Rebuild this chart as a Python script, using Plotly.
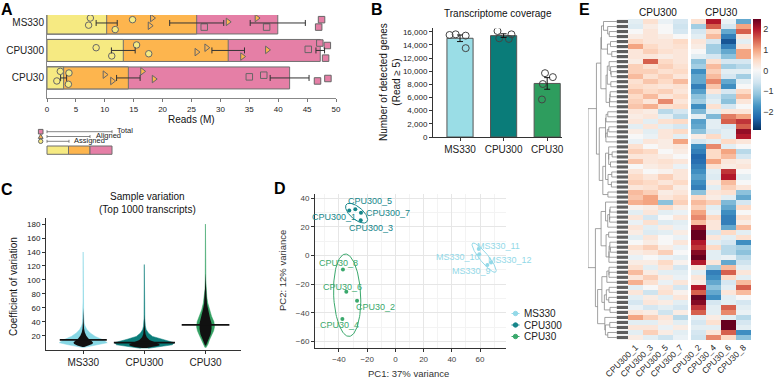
import numpy as np
import plotly.graph_objects as go

W, H = 774, 379
FONT = "Arial, Liberation Sans, sans-serif"


def fx(p):
    return p / W


def fy(p):
    return 1 - p / H


# ======================= DATA =======================
groups = ["MS330", "CPU300", "CPU30"]

# Panel A - reads per library (millions)
assigned_reads = [[7.5, 7.2, 11.8, 14.8], [8.5, 11.2, 15.5, 17.6], [2.3, 3.8, 1.7, 3.7]]
aligned_reads = [[18.2, 17.8, 31.3, 36.3], [25.9, 27.6, 38.1, 33.8], [10.0, 11.3, 16.5, 18.5]]
total_reads = [[27.2, 38.0, 47.5, 47.0], [47.2, 48.5, 45.2, 48.2], [35.0, 37.5, 46.8, 48.6]]
reads_ticks = list(range(0, 51, 5))

# Panel B - detected genes (read >= 5)
detected_genes = [[15500, 15600, 15400, 13500], [16100, 15000, 14900, 15600], [9700, 9100, 8050, 5700]]
genes_ticks = list(range(0, 16001, 2000))

# Panel C - coefficient of variation, density profiles (relative half-width)
ms330_cv = [3, 4, 7, 10, 14, 19, 24, 29, 34, 38, 50, 70, 100, 140]
ms330_dens = [0, 0.1, 0.5, 0.8, 0.67, 0.4, 0.23, 0.12, 0.057, 0.03, 0.012, 0.008, 0.006, 0.004]
ms330_swarm_cv = [4, 6, 8, 10, 13, 16, 20, 25, 30, 40, 60]
ms330_swarm = [0.03, 0.2, 0.3, 0.33, 0.27, 0.17, 0.1, 0.05, 0.027, 0.012, 0.006]
cpu300_cv = [2, 4, 7, 10, 12, 15, 19, 24, 29, 34, 45, 70, 100, 122]
cpu300_dens = [0.13, 0.5, 0.93, 1.0, 0.83, 0.57, 0.27, 0.13, 0.057, 0.03, 0.012, 0.008, 0.006, 0.004]
cpu300_swarm_cv = [2.5, 4, 6, 8, 11, 14, 18, 22, 28, 35, 50]
cpu300_swarm = [0.07, 0.33, 0.5, 0.5, 0.33, 0.17, 0.08, 0.04, 0.02, 0.01, 0.006]
cpu30_cv = [3, 8, 14, 20, 27, 33, 40, 48, 57, 67, 76, 86, 100, 130, 180]
cpu30_dens = [0.017, 0.083, 0.13, 0.2, 0.27, 0.3, 0.28, 0.2, 0.13, 0.073, 0.04, 0.02, 0.01, 0.006, 0.004]
cpu30_swarm_cv = [6, 10, 15, 22, 30, 38, 45, 55, 65, 80, 92, 110]
cpu30_swarm = [0.017, 0.05, 0.1, 0.17, 0.2, 0.2, 0.15, 0.1, 0.05, 0.027, 0.012, 0.005]
cv_median = [14.0, 10.0, 35.5]
cv_ticks = list(range(20, 181, 20))

# Panel D - PCA
pca_samples = ["MS330_9", "MS330_10", "MS330_11", "MS330_12",
               "CPU300_1", "CPU300_3", "CPU300_5", "CPU300_7",
               "CPU30_2", "CPU30_4", "CPU30_6", "CPU30_8"]
pca_group = ["MS330"] * 4 + ["CPU300"] * 4 + ["CPU30"] * 4
pc1 = [65.2, 59.5, 59.1, 67.8, -32.7, -24.6, -28.4, -24.4, -27.2, -37.6, -34.8, -37.2]
pc2 = [-6.6, 0.8, 4.5, -4.8, 31.4, 24.5, 32.1, 29.8, -31.5, -44.2, -25.2, -9.7]
pc_ticks = [-40, -20, 0, 20, 40, 60]

# Panel E - z-scored expression (rows ordered as in the heatmap)
heat_samples_left = ["CPU300_1", "CPU300_3", "CPU300_5", "CPU300_7"]
heat_samples_right = ["CPU30_2", "CPU30_4", "CPU30_6", "CPU30_8"]
cpu300_1 = [-0.3, -0.4, 0.0, 0.2, 0.5, 1.0, 0.3, 0.3, 0.2, 0.6, 0.6, 0.8, 0.4, 0.5, 0.7, 0.5, 0.6, 0.7, 0.3, 0.2, 0.3,
            -0.3, 0.2, 0.0, -0.2, 0.4, 0.6, 0.3, 0.7, 0.0, 0.3, 0.5, 0.6, 0.3, 0.8, 0.7, 0.9, 0.1, -0.3, 0.3, -0.2, 0.3, 0.2,
            -0.3, 0.0, 0.4, 0.2, -0.2, 0.2, 0.4, 0.8, 0.3, 0.9, -0.3, 0.3, -0.3, -0.5, -0.2, 0.3, 1.0, -0.3, 0.3, -0.3, 0.2]
cpu300_3 = [0.4, 0.2, 0.3, 0.3, 0.3, 0.5, 0.6, 0.3, 1.5, 0.4, 0.6, 0.4, 0.7, 0.4, 0.5, 0.8, 0.3, 0.9, 0.2, 0.3, -0.3,
            0.3, -0.3, -0.2, 0.3, 0.0, 0.5, 0.3, 0.3, 0.2, 0.0, 0.3, 0.5, 0.4, 0.6, 1.0, 1.0, 0.2, 0.3, -0.5, 0.4, -0.3, -0.4,
            0.3, 0.2, 0.6, 0.3, 0.0, 0.2, -0.3, 0.2, 0.6, 0.4, 0.0, -0.6, 0.2, 0.3, -0.5, 0.2, 0.6, -0.3, 0.3, 0.6, -0.3]
cpu300_5 = [-0.2, 0.0, 0.0, 0.2, 0.3, 0.3, 0.4, 0.2, 0.5, 0.6, 0.4, 0.6, 0.5, 0.3, 0.6, 0.3, 1.2, 0.4, -0.8, -0.3, 0.4,
            -0.3, 0.3, 0.3, 0.2, 0.2, 0.0, 0.2, 0.4, 0.3, 0.1, 0.6, 0.3, 0.6, 0.2, 0.3, -1.2, 0.5, -0.3, 0.0, -0.4, 0.2, -0.3,
            0.0, 0.0, 0.2, 0.6, -0.2, 0.5, 0.3, -0.3, 0.2, -0.2, 0.3, 0.4, -0.3, 0.2, -0.3, -0.6, 0.3, 0.2, -0.2, 0.2, -0.6]
cpu300_7 = [-0.5, -0.6, -0.5, 0.0, 0.5, 0.4, 0.3, 0.3, 0.3, 0.4, 0.5, 0.3, 0.8, 0.4, 0.3, 0.5, 0.3, 0.5, -0.5, -0.8, 0.5,
            -0.5, 0.5, -0.3, 1.0, 0.3, 0.2, 0.0, 0.3, -0.2, 0.3, 0.3, 0.5, 0.2, 0.3, 0.5, 0.6, 0.2, -0.2, 0.3, -0.3, -0.2, 0.2,
            -0.2, 0.3, -0.2, 0.0, -0.3, 0.1, -0.5, -0.3, -0.2, 0.3, -0.5, 0.1, 0.3, -0.3, -0.5, 0.2, -0.8, -0.3, 0.2, -0.3, -0.2]
cpu30_2 = [0.4, -1.0, -0.5, -0.3, 0.3, 0.2, 0.0, -0.3, -1.2, -1.0, -1.8, -1.5, -1.5, -2.0, -1.6, -1.2, -1.0, -1.8, -1.3, -0.3, -1.6,
           -1.5, -1.2, 0.2, -0.5, -1.8, -2.0, -2.3, -2.2, -2.0, -1.8, -1.6, -1.8, -2.0, -1.2, 0.5, 0.8, 0.6, 1.0, 1.2, 0.8, 2.2, 2.5,
           2.5, 2.0, 1.8, 2.3, 2.6, 2.0, 0.3, -0.3, 0.3, 0.2, 2.0, 1.5, 2.5, 2.3, 1.8, 1.5, -0.3, -0.5, -0.3, -0.5, -0.6]
cpu30_4 = [2.0, 1.5, 0.5, 0.8, -0.5, -1.0, -1.0, -0.5, 0.4, 0.8, 0.6, 0.8, 1.2, 0.7, 0.3, -0.5, -0.3, 0.4, -0.3, -1.3, -0.3,
           -0.3, -0.5, 0.5, -0.3, 1.2, 0.5, 0.5, 1.0, 0.4, -0.3, -0.4, 0.2, -0.3, 0.3, 0.2, 0.6, -0.3, -0.2, 0.5, 0.3, 0.3, -0.5,
           0.3, -0.3, 0.5, -0.3, -0.3, 0.3, -1.0, -2.0, -1.8, -1.5, -1.2, -1.5, -1.8, -0.5, -0.3, -0.3, 0.2, 0.4, -0.3, 0.3, 1.2]
cpu30_6 = [-0.2, -0.5, -1.5, -2.0, -2.5, -2.0, -1.5, -1.2, -0.5, -1.0, -0.3, -0.5, -1.5, -1.8, -0.5, -1.0, -1.2, -0.5, 0.3, 1.3, 1.5,
           -0.5, -0.3, -0.3, 0.5, -0.3, 1.0, 0.8, 0.3, 0.2, 1.8, 2.0, 0.8, 0.6, 0.4, -0.3, -1.3, -1.5, -1.8, -2.0, -2.0, -1.5, 0.5,
           -0.3, -0.5, -0.8, -0.8, -0.2, -1.5, 0.8, 1.5, 0.5, -0.5, -0.3, 0.3, -0.3, -0.3, 1.5, 1.2, -0.3, 2.5, 2.6, 1.5, 0.5]
cpu30_8 = [-1.5, 1.0, 1.5, 0.3, -0.3, 0.3, 1.0, 1.0, -0.5, -0.8, -0.3, -1.0, -0.3, 0.0, 0.5, 0.8, 0.3, 0.0, 0.3, 1.0, 1.8,
           1.5, 2.2, 2.0, 0.3, 0.0, -0.8, -0.5, 0.2, 0.3, 0.0, -0.3, 0.0, 0.3, -1.2, -1.5, -0.5, 0.5, 0.0, 0.4, 0.2, 0.8, -0.3,
           0.4, -1.8, -1.0, -1.2, -0.8, -0.6, -0.3, 0.3, -0.3, 0.8, 1.5, 0.8, 0.0, -0.5, -0.3, -0.2, -0.8, -0.5, -0.3, -1.8, -1.2]
z_ticks = [-2, -1, 0, 1, 2]

# ======================= STYLE =======================
col_total, col_aligned, col_assigned = "#E57FA6", "#FDB54E", "#F6EA82"
col_b = ["#9ADDE6", "#0A7C79", "#2E9D5E"]
col_c = ["#86D7E4", "#0B7D7A", "#33A062"]
col_d = {"MS330": "#93D9E8", "CPU300": "#16868A", "CPU30": "#3AA86C"}
assigned_jit = [[0.18, -0.08, -0.24, 0.12], [0.1, -0.2, 0.2, -0.12], [0.24, 0.18, -0.11, -0.23]]
aligned_jit = [[0.18, -0.1, 0.04, 0.18], [-0.06, 0.1, 0.02, -0.22], [0.12, -0.11, 0.24, -0.04]]
total_jit = [[-0.15, -0.15, 0.12, -0.15], [0.27, 0.18, 0.04, -0.28], [0.04, 0.1, -0.11, -0.02]]
b_jit = [[-0.24, -0.1, 0.13, 0.13], [-0.14, -0.1, 0.12, 0.18], [-0.05, 0.13, -0.1, -0.12]]
label_shift = {  # (dx, dy) pixels, dy positive = up
    "MS330_9": (-16, -6), "MS330_10": (-21, -3), "MS330_11": (20, 3), "MS330_12": (19, 2),
    "CPU300_1": (-15, -7), "CPU300_3": (10, -8), "CPU300_5": (15, 8), "CPU300_7": (27, 0),
    "CPU30_2": (18, -6), "CPU30_4": (-3, -6), "CPU30_6": (-4, 5), "CPU30_8": (-4, 6),
}
violin_scale = 0.49
median_half = [0.385, 0.5, 0.39]

fig = go.Figure()
ann = []
shapes = []


def text(x, y, s, size=10, color="#111", angle=0, xanchor="center", bold=False):
    ann.append(dict(x=fx(x), y=fy(y), xref="paper", yref="paper", text=f"<b>{s}</b>" if bold else s,
                    showarrow=False, xanchor=xanchor, yanchor="middle", textangle=angle,
                    font=dict(size=size, color=color, family=FONT)))


def pline(x0, y0, x1, y1, color="#666", width=0.8):
    shapes.append(dict(type="line", xref="paper", yref="paper", x0=fx(x0), y0=fy(y0), x1=fx(x1), y1=fy(y1),
                       line=dict(color=color, width=width)))


def prect(x0, y0, x1, y1, fill, line="#6f6f6f", kind="rect"):
    shapes.append(dict(type=kind, xref="paper", yref="paper", x0=fx(x0), y0=fy(y0), x1=fx(x1), y1=fy(y1),
                       fillcolor=fill, line=dict(color=line, width=1)))


def ptri(cx, cy, r, fill):
    pts = [(cx, cy - r), (cx + r, cy + r * 0.8), (cx - r, cy + r * 0.8)]
    path = "M " + " L ".join(f"{fx(a):.5f},{fy(b):.5f}" for a, b in pts) + " Z"
    shapes.append(dict(type="path", xref="paper", yref="paper", path=path, fillcolor=fill,
                       line=dict(color="#666", width=1)))


# ======================= PANEL A =======================
ypos = [2, 1, 0]
a_series = [("Total", total_reads, total_jit, col_total, "square"),
            ("Aligned", aligned_reads, aligned_jit, col_aligned, "triangle-right"),
            ("Assigned", assigned_reads, assigned_jit, col_assigned, "circle")]
for name, pts, jit, col, sym in a_series:
    means = [float(np.mean(p)) for p in pts]
    fig.add_trace(go.Bar(x=means, y=ypos, orientation="h", width=0.8,
                         marker=dict(color=col, line=dict(color="#6f6f6f", width=1)),
                         xaxis="x", yaxis="y", showlegend=False, hoverinfo="skip"))
for name, pts, jit, col, sym in a_series:
    xs, ys = [], []
    for gi, p in enumerate(pts):
        for v, j in zip(p, jit[gi]):
            xs.append(v)
            ys.append(ypos[gi] + j)
    fig.add_trace(go.Scatter(x=xs, y=ys, mode="markers",
                             marker=dict(symbol=sym, size=6.5, color=col, line=dict(color="#666", width=1)),
                             xaxis="x", yaxis="y", showlegend=False, hoverinfo="skip"))
for name, pts, jit, col, sym in a_series:
    means = [float(np.mean(p)) for p in pts]
    sems = [float(np.std(p, ddof=1) / np.sqrt(len(p))) for p in pts]
    fig.add_trace(go.Scatter(x=means, y=ypos, mode="markers", marker=dict(size=1, color="rgba(0,0,0,0)"),
                             error_x=dict(type="data", array=sems, color="#333", thickness=1, width=3),
                             xaxis="x", yaxis="y", showlegend=False, hoverinfo="skip"))

# legend of panel A (layout shapes in pixel space)
leg = [("Total", col_total, 131.7, 112, 115.5),
       ("Aligned", col_aligned, 136.5, 90, 94),
       ("Assigned", col_assigned, 141.3, 69, 72)]
for name, col, yy, xend, xt in leg:
    pline(47, yy, xend, yy)
    pline(47, yy - 1.5, 47, yy + 1.5)
    pline(xend, yy - 1.5, xend, yy + 1.5)
    text(xt, yy - 0.8, name, size=7.5, xanchor="left", color="#222")
prect(38.4, 129.4, 43, 134, col_total, "#666")
ptri(40.7, 136.5, 2.4, col_aligned)
prect(38.5, 139.1, 42.9, 143.5, col_assigned, "#666", kind="circle")
for x0, x1, col in [(47, 68.5, col_assigned), (68.5, 90, col_aligned), (90, 112, col_total)]:
    prect(x0, 146, x1, 154.3, col)

# ======================= PANEL B =======================
b_means = [float(np.mean(g)) for g in detected_genes]
b_sems = [float(np.std(g, ddof=1) / np.sqrt(len(g))) for g in detected_genes]
fig.add_trace(go.Bar(x=[0, 1, 2], y=b_means, width=0.6,
                     marker=dict(color=col_b, line=dict(color="#555", width=1)),
                     xaxis="x2", yaxis="y2", showlegend=False, hoverinfo="skip"))
bx, by = [], []
for gi, g in enumerate(detected_genes):
    for v, j in zip(g, b_jit[gi]):
        bx.append(gi + j)
        by.append(v)
fig.add_trace(go.Scatter(x=bx, y=by, mode="markers",
                         marker=dict(symbol="circle-open", size=7, color="#444", line=dict(width=1)),
                         xaxis="x2", yaxis="y2", showlegend=False, hoverinfo="skip"))
fig.add_trace(go.Scatter(x=[0, 1, 2], y=b_means, mode="markers", marker=dict(size=1, color="rgba(0,0,0,0)"),
                         error_y=dict(type="data", array=b_sems, color="#111", thickness=1, width=3),
                         xaxis="x2", yaxis="y2", showlegend=False, hoverinfo="skip"))

# ======================= PANEL C =======================
v_cv = [ms330_cv, cpu300_cv, cpu30_cv]
v_de = [ms330_dens, cpu300_dens, cpu30_dens]
s_cv = [ms330_swarm_cv, cpu300_swarm_cv, cpu30_swarm_cv]
s_de = [ms330_swarm, cpu300_swarm, cpu30_swarm]
for gi in range(3):
    for cvs, dens, col, lw in [(v_cv[gi], v_de[gi], col_c[gi], 0.5), (s_cv[gi], s_de[gi], "#111", 0)]:
        cvs = np.array(cvs, float)
        d = np.array(dens, float) * violin_scale
        xs = np.concatenate([gi + d, (gi - d)[::-1]])
        ys = np.concatenate([cvs, cvs[::-1]])
        fig.add_trace(go.Scatter(x=xs, y=ys, mode="lines", fill="toself", fillcolor=col,
                                 line=dict(color=col, width=lw), xaxis="x3", yaxis="y3",
                                 showlegend=False, hoverinfo="skip"))
    fig.add_trace(go.Scatter(x=[gi - median_half[gi], gi + median_half[gi]], y=[cv_median[gi]] * 2, mode="lines",
                             line=dict(color="#111", width=1.8), xaxis="x3", yaxis="y3",
                             showlegend=False, hoverinfo="skip"))

# ======================= PANEL D =======================
pc1a, pc2a = np.array(pc1), np.array(pc2)
t = np.linspace(0, 2 * np.pi, 120)
for g in groups:
    idx = [i for i, gg in enumerate(pca_group) if gg == g]
    pts = np.vstack([pc1a[idx], pc2a[idx]])
    mu = pts.mean(axis=1)
    cov = np.cov(pts)
    vals, vecs = np.linalg.eigh(cov)
    circ = np.vstack([np.cos(t), np.sin(t)]) * 2.0
    ell = vecs @ (np.sqrt(vals)[:, None] * circ) + mu[:, None]
    fig.add_trace(go.Scatter(x=ell[0], y=ell[1], mode="lines", line=dict(color=col_d[g], width=1),
                             xaxis="x4", yaxis="y4", showlegend=False, hoverinfo="skip"))
    fig.add_trace(go.Scatter(x=pc1a[idx], y=pc2a[idx], mode="markers", marker=dict(size=4, color=col_d[g]),
                             xaxis="x4", yaxis="y4", showlegend=False, hoverinfo="skip"))
for s, g, a, b in zip(pca_samples, pca_group, pc1, pc2):
    dx, dy = label_shift[s]
    ann.append(dict(x=a, y=b, xref="x4", yref="y4", text=s, showarrow=False, xshift=dx, yshift=dy,
                    font=dict(size=9, color=col_d[g], family=FONT)))
# legend of panel D
for k, g in enumerate(groups):
    yy = 313.5 + k * 11.5
    pline(511.5, yy, 519.5, yy, color=col_d[g], width=1)
    prect(513.3, yy - 2.2, 517.7, yy + 2.2, col_d[g], col_d[g], kind="circle")
    text(521.5, yy, g, size=10, color="#222", xanchor="left")

# ======================= PANEL E =======================
cols_l = [cpu300_1, cpu300_3, cpu300_5, cpu300_7]
cols_r = [cpu30_2, cpu30_4, cpu30_6, cpu30_8]
nrow = min(len(c) for c in cols_l + cols_r)
M = np.array([c[:nrow] for c in cols_l + cols_r], float).T
zmin, zmax = -2.9, 2.5
zf = -zmin / (zmax - zmin)
blues = ["#053061", "#2166AC", "#4393C3", "#92C5DE", "#D1E5F0", "#F7F7F7"]
reds = ["#F7F7F7", "#FDDBC7", "#F4A582", "#D6604D", "#B2182B", "#67001F"]
cscale = [[zf * i / 5, c] for i, c in enumerate(blues)] + [[zf + (1 - zf) * i / 5, c] for i, c in enumerate(reds[1:], 1)]
rows = list(range(nrow))
fig.add_trace(go.Heatmap(z=M[:, :4], x=heat_samples_left, y=rows, colorscale=cscale, zmin=zmin, zmax=zmax,
                         showscale=False, xaxis="x6", yaxis="y6", hoverinfo="skip"))
fig.add_trace(go.Heatmap(z=M[:, 4:], x=heat_samples_right, y=rows, colorscale=cscale, zmin=zmin, zmax=zmax,
                         xaxis="x8", yaxis="y8", hoverinfo="skip",
                         colorbar=dict(x=fx(753), xanchor="left", y=fy(19), yanchor="top", len=111, lenmode="pixels",
                                       thickness=8, xpad=0, ypad=0, outlinewidth=0, tickvals=z_ticks,
                                       ticktext=["\u22122", "\u22121", "0", "1", "2"], ticks="",
                                       tickfont=dict(size=9, color="#333", family=FONT))))

# dendrogram via order-preserving (adjacent) Ward merging
clusters = [dict(pos=float(i), h=0.0, c=M[i].copy(), n=1) for i in rows]
segs = []
while len(clusters) > 1:
    best = None
    for j in range(len(clusters) - 1):
        a, b = clusters[j], clusters[j + 1]
        d = np.sqrt(2 * a["n"] * b["n"] / (a["n"] + b["n"])) * np.linalg.norm(a["c"] - b["c"])
        if best is None or d < best[0]:
            best = (d, j)
    d, j = best
    a, b = clusters[j], clusters[j + 1]
    h = max(d, a["h"], b["h"]) + 1e-6
    segs.append((a["h"], a["pos"], h, a["pos"]))
    segs.append((b["h"], b["pos"], h, b["pos"]))
    segs.append((h, a["pos"], h, b["pos"]))
    n = a["n"] + b["n"]
    clusters[j:j + 2] = [dict(pos=(a["pos"] + b["pos"]) / 2, h=h, c=(a["c"] * a["n"] + b["c"] * b["n"]) / n, n=n)]
hmax = max(s[2] for s in segs)
stub = 0.28


def tx(hv):
    return stub + (hv / hmax) ** 0.6 * (1 - stub)


dxs, dys = [], []
for x0, y0, x1, y1 in segs:
    dxs += [tx(x0), tx(x1), None]
    dys += [y0, y1, None]
fig.add_trace(go.Scatter(x=dxs, y=dys, mode="lines", line=dict(color="#8a8a8a", width=0.8),
                         xaxis="x5", yaxis="y5", showlegend=False, hoverinfo="skip"))
lx, ly = [], []
for r in rows:
    lx += [0, stub, None]
    ly += [r, r, None]
fig.add_trace(go.Scatter(x=lx, y=ly, mode="lines", line=dict(color="#5e5e5e", width=3.2),
                         xaxis="x5", yaxis="y5", showlegend=False, hoverinfo="skip"))

# ======================= TEXT =======================
text(7, 9, "A", size=16, color="#000", bold=True)
text(377, 9, "B", size=16, color="#000", bold=True)
text(7, 189, "C", size=16, color="#000", bold=True)
text(280, 188, "D", size=16, color="#000", bold=True)
text(584, 9, "E", size=16, color="#000", bold=True)
text(191, 119, "Reads (M)", size=10)
text(498, 13, "Transcriptome coverage", size=10)
text(390, 82, "Number of detected genes<br>(Read \u2265 5)", size=10, angle=-90)
text(147, 203, "Sample variation<br>(Top 1000 transcripts)", size=10)
text(13, 287, "Coefficient of variation", size=10, angle=-90)
text(408, 373, "PC1: 37% variance", size=9.5, color="#333")
text(282, 271, "PC2: 12% variance", size=9.5, color="#333", angle=-90)
text(658, 12, "CPU300", size=10)
text(721, 12, "CPU30", size=10)

tick_font = dict(size=8, color="#222", family=FONT)
big_font = dict(size=10, color="#222", family=FONT)
hm_font = dict(size=8.5, color="#222", family=FONT)
base = dict(showgrid=False, zeroline=False, automargin=False)
fig.update_layout(
    width=W, height=H, margin=dict(l=0, r=0, t=0, b=0, autoexpand=False), paper_bgcolor="white", plot_bgcolor="white",
    barmode="overlay", showlegend=False, font=dict(family=FONT), annotations=ann, shapes=shapes,
    xaxis=dict(**base, domain=[fx(47), fx(336)], range=[0, 50], tickvals=reads_ticks, ticks="outside", ticklen=3,
               tickcolor="#777", showline=True, linecolor="#888", tickfont=tick_font, anchor="y"),
    yaxis=dict(**base, domain=[fy(98), fy(15)], range=[-0.73, 2.29], tickvals=ypos, ticktext=groups, ticks="",
               showline=True, linecolor="#888", tickfont=big_font, anchor="x"),
    xaxis2=dict(**base, domain=[fx(433), fx(562)], range=[-0.62, 2.34], tickvals=[0, 1, 2], ticktext=groups,
                ticks="outside", ticklen=3, tickcolor="#333", showline=True, linecolor="#333", tickfont=big_font, anchor="y2"),
    yaxis2=dict(**base, domain=[fy(137), fy(28.4)], range=[0, 16500], tickvals=genes_ticks, tickformat=",d",
                ticks="outside", ticklen=3, tickcolor="#333", showline=True, linecolor="#333", tickfont=tick_font, anchor="x2"),
    xaxis3=dict(**base, domain=[fx(46), fx(241)], range=[-0.61, 2.58], tickvals=[0, 1, 2], ticktext=groups,
                ticks="outside", ticklen=3, tickcolor="#333", showline=True, linecolor="#333", tickfont=big_font, anchor="y3"),
    yaxis3=dict(**base, domain=[fy(349.7), fy(217.8)], range=[0, 189], tickvals=cv_ticks, ticks="outside", ticklen=3,
                tickcolor="#333", showline=True, linecolor="#333", tickfont=tick_font, anchor="x3"),
    xaxis4=dict(zeroline=False, automargin=False, domain=[fx(315), fx(506)], range=[-57, 78.4], tickvals=pc_ticks,
                showgrid=True, gridcolor="#e6e6e6", gridwidth=1,
                minor=dict(showgrid=True, gridcolor="#f3f3f3", dtick=10, tick0=0),
                ticks="outside", ticklen=3, tickcolor="#333", showline=True, linecolor="#333",
                tickfont=dict(size=8, color="#444", family=FONT), anchor="y4"),
    yaxis4=dict(zeroline=False, automargin=False, domain=[fy(348), fy(194)], range=[-64.4, 42.8],
                tickvals=[-60, -40, -20, 0, 20, 40], showgrid=True, gridcolor="#e6e6e6", gridwidth=1,
                minor=dict(showgrid=True, gridcolor="#f3f3f3", dtick=10, tick0=0),
                ticks="outside", ticklen=3, tickcolor="#333", showline=True, linecolor="#333",
                tickfont=dict(size=8, color="#444", family=FONT), anchor="x4"),
    xaxis5=dict(**base, domain=[fx(588), fx(628)], range=[1.0, 0], visible=False, anchor="y5"),
    yaxis5=dict(**base, domain=[fy(340), fy(19)], range=[nrow - 0.5, -0.5], visible=False, anchor="x5"),
    xaxis6=dict(**base, domain=[fx(628), fx(688)], tickangle=-45, ticks="", tickfont=hm_font, anchor="y6"),
    yaxis6=dict(**base, domain=[fy(340), fy(19)], range=[nrow - 0.5, -0.5], visible=False, anchor="x6"),
    xaxis8=dict(**base, domain=[fx(691), fx(751)], tickangle=-45, ticks="", tickfont=hm_font, anchor="y8"),
    yaxis8=dict(**base, domain=[fy(340), fy(19)], range=[nrow - 0.5, -0.5], visible=False, anchor="x8"),
)

fig.write_html("out.html", config={"displayModeBar": False, "staticPlot": True},
               post_script="document.body.style.margin='0';document.body.style.padding='0';")
